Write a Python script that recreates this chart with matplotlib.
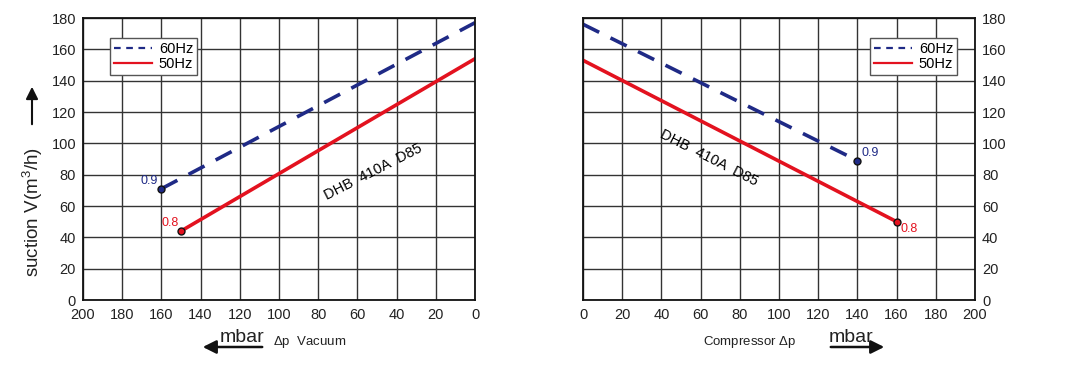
import numpy as np
import matplotlib.pyplot as plt
from matplotlib.patches import FancyArrowPatch

plt.rcParams['font.family'] = ['Liberation Sans', 'DejaVu Sans']
plt.rcParams['mathtext.fontset'] = 'custom'
plt.rcParams['mathtext.rm'] = 'Liberation Sans'

# pressure difference (mbar) and suction (m3/h)
vac_60_p = [160, 0]
vac_60_v = [71, 177]
vac_50_p = [150, 0]
vac_50_v = [44, 154]

comp_60_p = [0, 140]
comp_60_v = [176, 89]
comp_50_p = [0, 160]
comp_50_v = [153, 50]

ticks_x = np.arange(0, 201, 20)
ticks_y = np.arange(0, 181, 20)

BLUE = '#1f2a86'
RED = '#e3121f'
GRID = '#333333'

fig = plt.figure(figsize=(10.66, 3.76), dpi=100)
ax1 = fig.add_axes([83 / 1066, 76 / 376, 392 / 1066, 282 / 376])
ax2 = fig.add_axes([583 / 1066, 76 / 376, 392 / 1066, 282 / 376])

for ax in (ax1, ax2):
    ax.set_xlim(0, 200)
    ax.set_ylim(0, 180)
    ax.set_xticks(ticks_x)
    ax.set_yticks(ticks_y)
    ax.grid(True, color=GRID, linewidth=1.0)
    ax.tick_params(labelsize=10.5, length=0, colors='#222222')
    ax.tick_params(axis='x', pad=6)
    ax.tick_params(axis='y', pad=5)
    for s in ax.spines.values():
        s.set_linewidth(1.3)
        s.set_color('#111111')

ax1.invert_xaxis()
ax2.yaxis.tick_right()

# left: vacuum
ax1.plot(vac_60_p, vac_60_v, color=BLUE, lw=2.6, dashes=(5, 3.5), label='60Hz')
ax1.plot(vac_50_p, vac_50_v, color=RED, lw=2.6, label='50Hz')
ax1.plot(vac_60_p[0], vac_60_v[0], 'o', color=BLUE, mec='#111111', ms=5)
ax1.plot(vac_50_p[0], vac_50_v[0], 'o', color=RED, mec='#111111', ms=5)
ax1.text(vac_60_p[0] + 2, vac_60_v[0] + 1, '0.9', color=BLUE, fontsize=9, ha='right', va='bottom')
ax1.text(vac_50_p[0] + 1, vac_50_v[0] + 1, '0.8', color=RED, fontsize=9, ha='right', va='bottom')
ax1.text(52, 82, 'DHB  410A  D85', rotation=27, fontsize=10.5, ha='center', va='center')

# right: compressor
ax2.plot(comp_60_p, comp_60_v, color=BLUE, lw=2.6, dashes=(5, 3.5), label='60Hz')
ax2.plot(comp_50_p, comp_50_v, color=RED, lw=2.6, label='50Hz')
ax2.plot(comp_60_p[-1], comp_60_v[-1], 'o', color=BLUE, mec='#111111', ms=5)
ax2.plot(comp_50_p[-1], comp_50_v[-1], 'o', color=RED, mec='#111111', ms=5)
ax2.text(comp_60_p[-1] + 2, comp_60_v[-1] + 1, '0.9', color=BLUE, fontsize=9, ha='left', va='bottom')
ax2.text(comp_50_p[-1] + 2, comp_50_v[-1] - 1, '0.8', color=RED, fontsize=9, ha='left', va='top')
ax2.text(64, 91, 'DHB  410A  D85', rotation=-27, fontsize=10.5, ha='center', va='center')

leg_kw = dict(fontsize=10.5, frameon=True, fancybox=False, framealpha=1,
              edgecolor='#555555', handlelength=2.6, borderpad=0.25,
              labelspacing=0.1, handletextpad=0.5, borderaxespad=0)
l1 = ax1.legend(loc='upper left', bbox_to_anchor=(27 / 392, 1 - 20 / 282), **leg_kw)
l2 = ax2.legend(loc='upper left', bbox_to_anchor=(287 / 392, 1 - 20 / 282), **leg_kw)
for l in (l1, l2):
    l.get_frame().set_linewidth(1.0)
    for h in l.get_lines():
        h.set_linewidth(1.6)
    l.get_lines()[0].set_dashes((3, 2.5))

# y label with arrow
fig.text(33 / 1066, 1 - 212 / 376, 'suction V(m$^3$/h)', rotation=90, fontsize=13.5,
         ha='center', va='center', color='#222222')
fig.add_artist(FancyArrowPatch(
    (32 / 1066, 1 - 127 / 376), (32 / 1066, 1 - 84 / 376), transform=fig.transFigure,
    arrowstyle='-|>', mutation_scale=18, lw=1.5, color='#111111'))

# bottom labels
fig.add_artist(FancyArrowPatch(
    (265 / 1066, 1 - 347 / 376), (200 / 1066, 1 - 347 / 376), transform=fig.transFigure,
    arrowstyle='-|>', mutation_scale=20, lw=1.8, color='#111111'))
fig.text(242 / 1066, 1 - 342 / 376, 'mbar', fontsize=14, ha='center', va='baseline', color='#222222')
fig.text(273 / 1066, 1 - 342 / 376, '$\\Delta$p  Vacuum', fontsize=9.5, ha='left', va='center', color='#222222')

fig.add_artist(FancyArrowPatch(
    (828 / 1066, 1 - 347 / 376), (887 / 1066, 1 - 347 / 376), transform=fig.transFigure,
    arrowstyle='-|>', mutation_scale=20, lw=1.8, color='#111111'))
fig.text(851 / 1066, 1 - 342 / 376, 'mbar', fontsize=14, ha='center', va='baseline', color='#222222')
fig.text(703 / 1066, 1 - 342 / 376, 'Compressor $\\Delta$p', fontsize=9.5, ha='left', va='center', color='#222222')

fig.savefig('out.png', dpi=100)
